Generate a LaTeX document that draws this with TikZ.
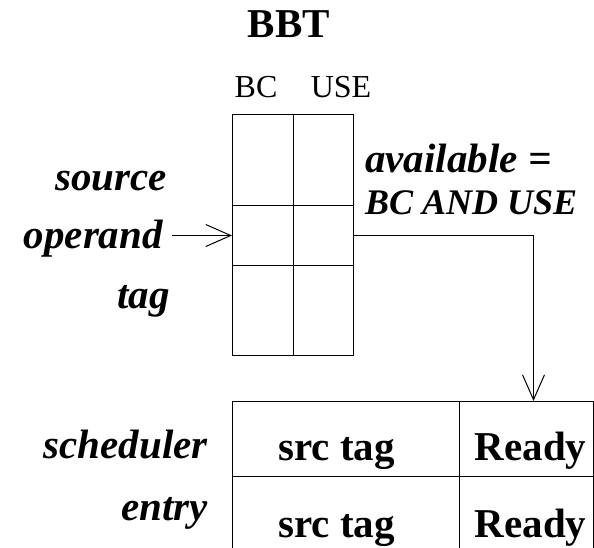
\documentclass[tikz,border=0pt]{standalone}
\usepackage{fontspec}
\setmainfont{Liberation Serif}
\usetikzlibrary{arrows.meta}
\begin{document}
\begin{tikzpicture}[x=1pt,y=-1pt,
  cell/.style={draw, line width=1pt, inner sep=0pt, anchor=north west},
  bigb/.style={font=\fontsize{41}{41}\selectfont\bfseries, inner sep=0pt, anchor=base},
  mid/.style={font=\fontsize{32}{32}\selectfont, inner sep=0pt, anchor=base},
  lbl/.style={font=\fontsize{41}{41}\selectfont\bfseries\itshape, inner sep=0pt, anchor=base east},
  lblw/.style={font=\fontsize{41}{41}\selectfont\bfseries\itshape, inner sep=0pt, anchor=base west},
  barb/.style={-{Straight Barb[length=25pt,width=22pt]}, line width=1pt}
]
\clip (0,0) rectangle (594,547);
\fill[white] (0,0) rectangle (594,547);
% title and headers
\node[bigb] (title) at (289,37) {BBT};
\node[mid] (bc) at (256,97) {BC};
\node[mid] (use) at (341,97) {USE};
% BBT table
\node[cell, minimum width=61pt, minimum height=91pt] (b11) at (232,114) {};
\node[cell, minimum width=60pt, minimum height=91pt] (b12) at (293,114) {};
\node[cell, minimum width=61pt, minimum height=60pt] (b21) at (232,205) {};
\node[cell, minimum width=60pt, minimum height=60pt] (b22) at (293,205) {};
\node[cell, minimum width=61pt, minimum height=90pt] (b31) at (232,265) {};
\node[cell, minimum width=60pt, minimum height=90pt] (b32) at (293,265) {};
% left labels
\node[lbl] (src) at (167,190) {source};
\node[lbl] (op) at (163,248) {operand};
\node[lbl] (tg) at (170,308) {tag};
% right labels
\node[lblw] (av) at (365,172) {available =};
\node[lblw, font=\fontsize{36}{36}\selectfont\bfseries\itshape] (bcu) at (365,214) {BC AND USE};
% scheduler table
\node[cell, minimum width=227pt, minimum height=75pt] (s1) at (232,401) {};
\node[cell, minimum width=134pt, minimum height=75pt] (r1) at (459,401) {};
\node[cell, minimum width=227pt, minimum height=120pt] (s2) at (232,476) {};
\node[cell, minimum width=134pt, minimum height=120pt] (r2) at (459,476) {};
\node[bigb] (st1) at (336.5,460) {src tag};
\node[bigb] (rd1) at (530.5,460) {Ready};
\node[bigb] (st2) at (336.5,537) {src tag};
\node[bigb] (rd2) at (530.5,537) {Ready};
\node[lbl] (sch) at (208,458) {scheduler};
\node[lbl] (ent) at (208,520) {entry};
% connectors
\draw[barb, shorten <=9pt] (b21.west -| op.east) -- (b21.west);
\draw[barb] (b22.east) -| ([xshift=7pt]r1.north);
\end{tikzpicture}
\end{document}
